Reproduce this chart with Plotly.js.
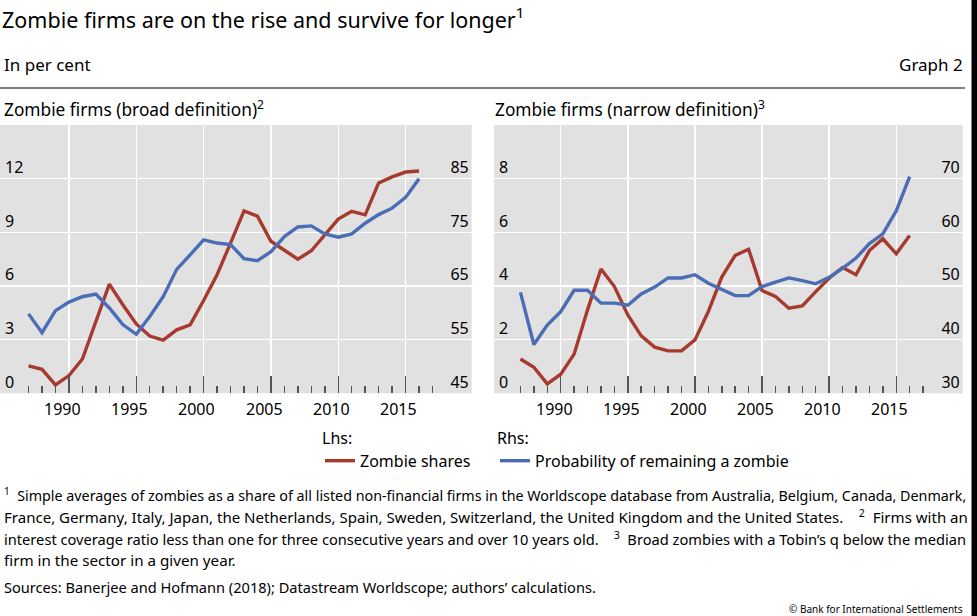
<!DOCTYPE html>
<html>
<head>
<meta charset="utf-8">
<script src="https://cdn.plot.ly/plotly-3.0.1.min.js"></script>
<style>
  html, body { margin: 0; padding: 0; background: #ffffff; }
  #chart { width: 977px; height: 616px; }
</style>
</head>
<body>
<div id="chart"></div>
<script>
// ---- Data ----
const years = [1987, 1988, 1989, 1990, 1991, 1992, 1993, 1994, 1995, 1996,
               1997, 1998, 1999, 2000, 2001, 2002, 2003, 2004, 2005, 2006,
               2007, 2008, 2009, 2010, 2011, 2012, 2013, 2014, 2015, 2016];

// Broad definition panel
const broadZombieShares = [1.53, 1.34, 0.47, 0.99, 1.92, 4.0, 6.1, 4.95, 3.88, 3.2,
                           2.97, 3.55, 3.83, 5.19, 6.63, 8.4, 10.2, 9.9, 8.5, 8.0,
                           7.5, 7.97, 8.87, 9.74, 10.17, 9.98, 11.76, 12.1, 12.37, 12.43];
const broadProbRemain = [59.8, 56.3, 60.4, 62.0, 63.0, 63.5, 60.9, 57.8, 56.0, 59.3,
                         63.0, 68.1, 70.8, 73.6, 73.0, 72.7, 70.1, 69.7, 71.4, 74.2,
                         76.0, 76.2, 74.7, 74.1, 74.7, 76.7, 78.3, 79.5, 81.5, 85.0];

// Narrow definition panel
const narrowZombieShares = [1.28, 0.97, 0.35, 0.71, 1.46, 3.11, 4.63, 3.98, 2.92, 2.14,
                            1.72, 1.58, 1.58, 1.99, 3.05, 4.33, 5.14, 5.37, 3.83, 3.61,
                            3.17, 3.26, 3.79, 4.29, 4.69, 4.42, 5.32, 5.76, 5.2, 5.88];
const narrowProbRemain = [48.8, 39.1, 42.7, 45.2, 49.2, 49.2, 46.8, 46.8, 46.4, 48.5,
                          49.8, 51.5, 51.5, 52.1, 50.5, 49.4, 48.2, 48.2, 49.9, 50.7,
                          51.5, 51.0, 50.4, 51.6, 53.3, 55.2, 57.9, 59.7, 64.0, 70.4];

// Axis ticks
const xMajorTicks = [1990, 1995, 2000, 2005, 2010, 2015];
const xTickLabels = ['1990', '1995', '2000', '2005', '2010', '2015'];
const xMinorTicks = [1987, 1988, 1989, 1991, 1992, 1993, 1994, 1996, 1997, 1998, 1999,
                     2001, 2002, 2003, 2004, 2006, 2007, 2008, 2009, 2011, 2012, 2013,
                     2014, 2016, 2017];
const broadLhsTicks = [0, 3, 6, 9, 12];
const broadRhsTicks = [45, 55, 65, 75, 85];
const narrowLhsTicks = [0, 2, 4, 6, 8];
const narrowRhsTicks = [30, 40, 50, 60, 70];

const seriesNames = ['Zombie shares', 'Probability of remaining a zombie'];

// ---- Styling ----
const W = 977, H = 616;
const px = v => v / W;
const py = v => 1 - v / H;
const RED = '#a63a2f';
const BLUE = '#4a6db5';
const GRID = '#ffffff';
const BG = '#e1e1e1';
const FONT = 'Noto Sans, Open Sans, sans-serif';
const TICKCOL = '#555555';

const ydom = [py(393.3), py(125)];

const traces = [
  {x: years, y: broadZombieShares, xaxis: 'x', yaxis: 'y', type: 'scatter', mode: 'lines',
   name: seriesNames[0], line: {color: RED, width: 3.4}, legend: 'legend', showlegend: true},
  {x: years, y: broadProbRemain, xaxis: 'x', yaxis: 'y2', type: 'scatter', mode: 'lines',
   name: seriesNames[1], line: {color: BLUE, width: 3.4}, legend: 'legend2', showlegend: true},
  {x: years, y: narrowZombieShares, xaxis: 'x2', yaxis: 'y3', type: 'scatter', mode: 'lines',
   name: seriesNames[0], line: {color: RED, width: 3.4}, showlegend: false},
  {x: years, y: narrowProbRemain, xaxis: 'x2', yaxis: 'y4', type: 'scatter', mode: 'lines',
   name: seriesNames[1], line: {color: BLUE, width: 3.4}, showlegend: false}
];

function xAxis(domain, range, anchor) {
  return {
    domain: domain, range: range, anchor: anchor,
    tickmode: 'array', tickvals: xMajorTicks, showticklabels: false,
    ticks: 'inside', ticklen: 17, tickwidth: 1.5, tickcolor: TICKCOL,
    showgrid: true, gridcolor: GRID, gridwidth: 1.5,
    zeroline: false, showline: false,
    minor: {tickmode: 'array', tickvals: xMinorTicks, ticks: 'inside', ticklen: 7,
            tickwidth: 1.5, tickcolor: TICKCOL, showgrid: false},
    fixedrange: true
  };
}
function yLeft(range, ticks, anchor) {
  return {
    domain: ydom, range: range, anchor: anchor,
    tickmode: 'array', tickvals: ticks, ticktext: ticks.map(String),
    ticks: '', showgrid: true, gridcolor: GRID, gridwidth: 1.5,
    zeroline: false, showline: false,
    ticklabelposition: 'inside top', ticklabelstandoff: 2,
    tickfont: {family: FONT, size: 16, color: '#000'}, fixedrange: true
  };
}
function yRight(range, ticks, overlay, anchor) {
  return {
    range: range, overlaying: overlay, side: 'right', anchor: anchor,
    tickmode: 'array', tickvals: ticks, ticktext: ticks.map(String),
    ticks: '', showgrid: false, zeroline: false, showline: false,
    ticklabelposition: 'inside top', ticklabelstandoff: 0,
    tickfont: {family: FONT, size: 16, color: '#000'}, fixedrange: true
  };
}

const fn1 = '<sup>1</sup>\u00a0 Simple averages of zombies as a share of all listed non-financial firms in the Worldscope database from Australia, Belgium, Canada, Denmark,';
const fn2 = 'France, Germany, Italy, Japan, the Netherlands, Spain, Sweden, Switzerland, the United Kingdom and the United States.\u00a0\u00a0\u00a0\u00a0<sup>2</sup>\u00a0 Firms with an';
const fn3 = 'interest coverage ratio less than one for three consecutive years and over 10 years old.\u00a0\u00a0\u00a0\u00a0<sup>3</sup>\u00a0 Broad zombies with a Tobin\u2019s q below the median';
const fn4 = 'firm in the sector in a given year.';
const fn5 = 'Sources: Banerjee and Hofmann (2018); Datastream Worldscope; authors\u2019 calculations.';

function ann(text, x, y, opts) {
  return Object.assign({
    text: text, x: px(x), y: py(y), xref: 'paper', yref: 'paper',
    xanchor: 'left', yanchor: 'middle', showarrow: false,
    font: {family: FONT, size: 17, color: '#000'}
  }, opts || {});
}
function fnFont(size) { return {font: {family: FONT, size: size, color: '#000'}}; }

// x-axis year labels, centred half a year before each major gridline (as in the reference)
const yearLabels = [];
['x', 'x2'].forEach(function (xr) {
  xMajorTicks.forEach(function (yr, i) {
    yearLabels.push({text: xTickLabels[i], x: yr - 0.5, xref: xr, y: py(409), yref: 'paper',
                     xanchor: 'center', yanchor: 'middle', showarrow: false,
                     font: {family: FONT, size: 16, color: '#000'}});
  });
});

const layout = {
  width: W, height: H,
  margin: {l: 0, r: 0, t: 0, b: 0, pad: 0},
  paper_bgcolor: '#ffffff', plot_bgcolor: BG,
  font: {family: FONT, color: '#000'},
  title: {text: 'Zombie firms are on the rise and survive for longer<sup>1</sup>',
          x: px(2), xanchor: 'left', xref: 'paper', y: py(20), yanchor: 'middle', yref: 'paper',
          font: {family: FONT, size: 21.5, color: '#000'}},
  xaxis: xAxis([0, px(471.7)], [1984.88, 2019.91], 'y'),
  yaxis: yLeft([0, 15], broadLhsTicks, 'x'),
  yaxis2: yRight([45, 95], broadRhsTicks, 'y', 'x'),
  xaxis2: xAxis([px(494), px(962.7)], [1985.03, 2019.95], 'y3'),
  yaxis3: yLeft([0, 10], narrowLhsTicks, 'x2'),
  yaxis4: yRight([30, 80], narrowRhsTicks, 'y3', 'x2'),
  legend: {x: px(320), y: py(423), xanchor: 'left', yanchor: 'top', orientation: 'v',
           title: {text: 'Lhs:', side: 'top', font: {family: FONT, size: 16, color: '#000'}},
           font: {family: FONT, size: 16, color: '#000'}, bgcolor: 'rgba(0,0,0,0)',
           borderwidth: 0, itemwidth: 30},
  legend2: {x: px(495), y: py(423), xanchor: 'left', yanchor: 'top', orientation: 'v',
           title: {text: 'Rhs:', side: 'top', font: {family: FONT, size: 16, color: '#000'}},
           font: {family: FONT, size: 16, color: '#000'}, bgcolor: 'rgba(0,0,0,0)',
           borderwidth: 0, itemwidth: 30},
  shapes: [
    {type: 'line', xref: 'paper', yref: 'paper', x0: 0, x1: px(965), y0: py(88), y1: py(88),
     line: {color: '#555555', width: 1.5}},
    {type: 'rect', xref: 'paper', yref: 'paper', x0: px(971.5), x1: 1, y0: 0, y1: 1,
     fillcolor: '#000000', line: {width: 0}}
  ],
  annotations: [
    ann('In per cent', 2, 64),
    ann('Graph 2', 965, 64, {xanchor: 'right'}),
    ann('Zombie firms (broad definition)<sup>2</sup>', 2, 108, {font: {family: FONT, size: 17.3, color: '#000'}}),
    ann('Zombie firms (narrow definition)<sup>3</sup>', 493, 108, {font: {family: FONT, size: 17.3, color: '#000'}}),
    ann(fn1, 2, 494, fnFont(14.3)),
    ann(fn2, 2, 516, fnFont(15.05)),
    ann(fn3, 2, 538, fnFont(14.65)),
    ann(fn4, 2, 560, fnFont(15.2)),
    ann(fn5, 2, 587, fnFont(14.6)),
    ann('\u00a9 Bank for International Settlements', 965, 609, {xanchor: 'right', font: {family: FONT, size: 10, color: '#000'}})
  ].concat(yearLabels)
};

Plotly.newPlot('chart', traces, layout, {staticPlot: true, displayModeBar: false});
</script>
</body>
</html>
